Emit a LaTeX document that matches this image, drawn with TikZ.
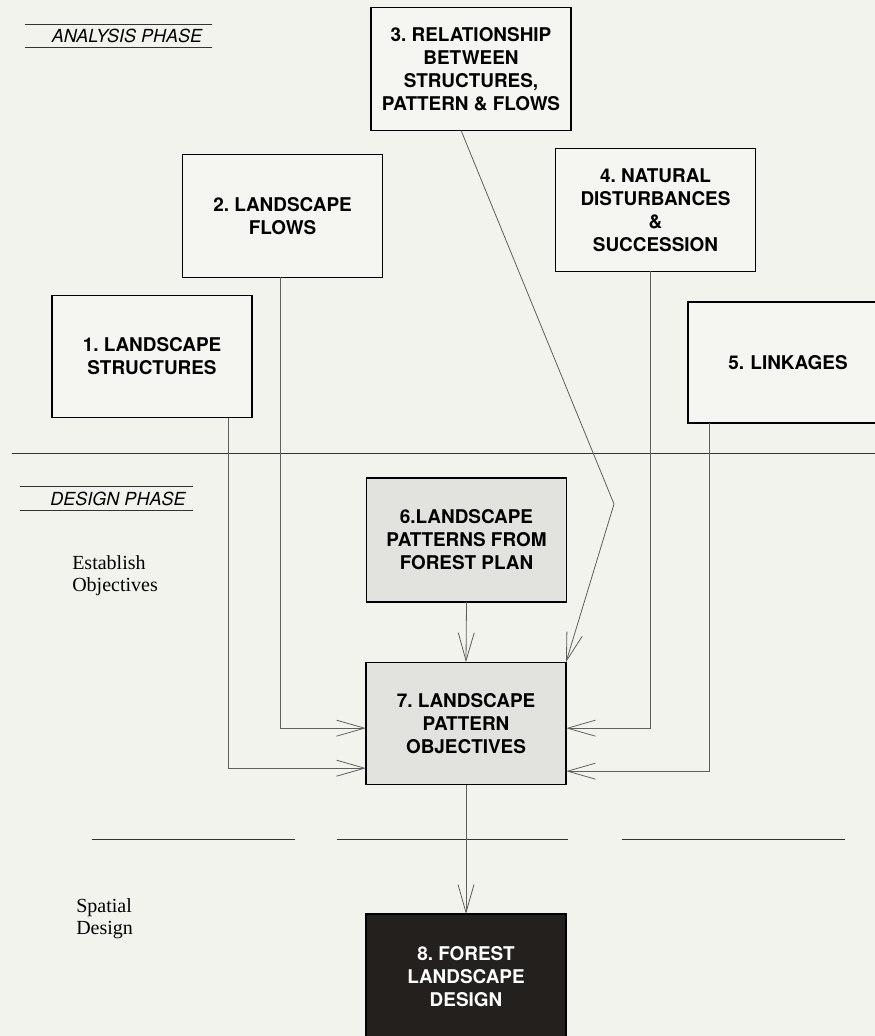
\documentclass[tikz,border=0pt]{standalone}
\usepackage{fontspec}
\setmainfont{Liberation Serif}
\setsansfont{TeX Gyre Heros}
\usetikzlibrary{arrows.meta,calc}
\frenchspacing
\definecolor{bg}{RGB}{243,243,238}
\definecolor{boxfill}{RGB}{245,245,241}
\definecolor{grayfill}{RGB}{226,226,222}
\definecolor{darkfill}{RGB}{35,32,30}
\definecolor{conncol}{RGB}{95,95,95}
\tikzset{
  box/.style={draw=black, line width=0.9pt, fill=boxfill, inner sep=0pt, outer sep=0pt,
    align=center, font=\sffamily\bfseries\fontsize{14.2}{17.25}\selectfont,
    minimum width=150pt, minimum height=92pt},
  graybox/.style={box, fill=grayfill},
  darkbox/.style={box, fill=darkfill, text=white},
  conn/.style={draw=conncol, line width=0.6pt, -{Straight Barb[length=21pt,width=12pt]}},
  rulel/.style={draw=black!80, line width=0.7pt},
  phase/.style={font=\sffamily\itshape\fontsize{13.5}{15}\selectfont, inner sep=0pt},
  side/.style={font=\fontsize{15}{16.5}\selectfont, align=left, inner sep=0pt, anchor=north west}
}
\begin{document}
\begin{tikzpicture}[x=0.75pt,y=-0.75pt]
\fill[bg] (0,0) rectangle (875,1036);
\useasboundingbox (0,0) rectangle (875,1036);

% phase labels
\draw[rulel] (25,24) -- (212,24);
\draw[rulel] (25,47) -- (212,47);
\node[phase] (ap) at (127,36) {ANALYSIS PHASE};

\draw[rulel] (12,453) -- (875,453);

\draw[rulel] (20,486) -- (193,486);
\draw[rulel] (20,510) -- (193,510);
\node[phase] (dp) at (118,499) {DESIGN PHASE};

\node[side] (eo) at (72,555) {Establish\\Objectives};

\draw[rulel] (92,839) -- (295,839);
\draw[rulel] (337,839) -- (568,839);
\draw[rulel] (622,839) -- (845,839);

\node[side] (sd) at (76,898) {Spatial\\Design};

% boxes
\node[box] (b1) at (152,356.5) {1. LANDSCAPE\\STRUCTURES};
\node[box] (b2) at (282.5,216) {2. LANDSCAPE\\FLOWS};
\node[box] (b3) at (471,69) {3. RELATIONSHIP\\BETWEEN\\STRUCTURES,\\PATTERN \& FLOWS};
\node[box] (b4) at (655.5,210) {4. NATURAL\\DISTURBANCES\\\&\\SUCCESSION};
\node[box, minimum height=90.75pt, text width=150pt] (b5) at (788,362.5) {5. LINKAGES};
\node[graybox, minimum height=93pt] (b6) at (466.5,540) {6.LANDSCAPE\\PATTERNS FROM\\FOREST PLAN};
\node[graybox] (b7) at (466,723.5) {7. LANDSCAPE\\PATTERN\\OBJECTIVES};
\node[darkbox, minimum height=94.5pt] (b8) at (466,977) {8. FOREST\\LANDSCAPE\\DESIGN};

% connectors
\coordinate (c3) at (614,504);
\draw[conn] ($(b1.south west)+(176,0)$) |- ($(b7.north west)+(0,106)$);
\draw[conn] ($(b2.south west)+(98,0)$) |- ($(b7.north west)+(0,66)$);
\draw[conn] ($(b3.south west)+(90,0)$) -- (c3) -- (b7.north east);
\draw[conn] ($(b4.south west)+(95,0)$) |- ($(b7.north east)+(0,66)$);
\draw[conn] ($(b5.south west)+(21,0)$) |- ($(b7.north east)+(0,109)$);
\draw[conn] (b6.south) -- (b7.north);
\draw[conn] (b7.south) -- (b8.north);
\end{tikzpicture}
\end{document}
